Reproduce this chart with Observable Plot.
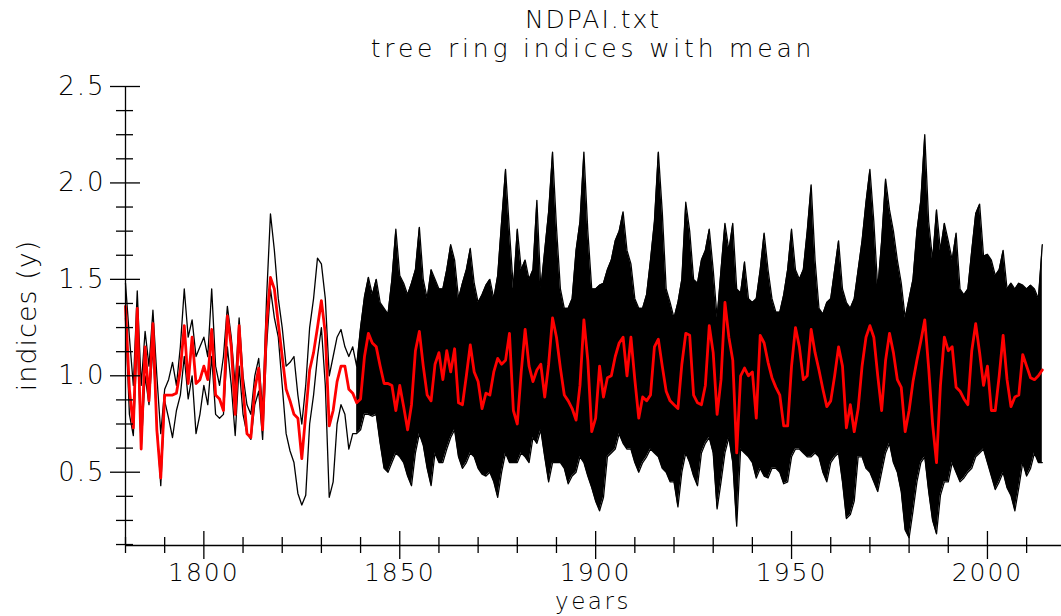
<!DOCTYPE html>
<html>
<head>
<meta charset="utf-8">
<script src="https://cdn.jsdelivr.net/npm/d3@7"></script>
<script src="https://cdn.jsdelivr.net/npm/@observablehq/plot@0.6"></script>
<style>
  html, body { margin: 0; padding: 0; background: #fff; }
  #wrap { position: relative; width: 1061px; height: 616px; overflow: hidden;
          font-family: "DejaVu Sans", sans-serif; font-weight: 200; color: #000; }
  #head { position: relative; height: 62px; }
  .ttl { position: absolute; left: 125px; width: 936px; text-align: center;
         font-size: 25px; line-height: 25px; white-space: nowrap; }
  #ylab { position: absolute; width: 200px; height: 27px; line-height: 27px; font-size: 27px;
          letter-spacing: 1px; text-align: center; left: -74.4px; top: 302px;
          transform: rotate(-90deg); white-space: nowrap; }
  #xlab { position: absolute; left: 125px; width: 936px; text-align: center; top: 589.5px;
          font-size: 23px; line-height: 23px; letter-spacing: 2.5px; }
  svg { display: block; }
</style>
</head>
<body>
<div id="wrap">
  <div id="head">
    <div class="ttl" style="top:7px; letter-spacing:2px">NDPAI.txt</div>
    <div class="ttl" style="top:36px; letter-spacing:3.8px">tree ring indices with mean</div>
  </div>
  <div id="chart"></div>
  <div id="ylab">indices (y)</div>
  <div id="xlab">years</div>
</div>
<script>
// ---------- data ----------
const firstYear = 1780;
const lastYear = 2014;
const denseFrom = 1839; // from here on the individual series merge into a solid band

// red: mean of all tree ring indices, 1780..2014 (one value per year)
const meanIndex = [
  1.36,0.93,0.73,1.35,0.62,1.15,0.87,1.27,0.72,0.47, // 1780s
  0.90,0.90,0.90,0.91,1.03,1.26,0.96,1.20,0.96,0.98, // 1790s
  1.05,0.98,1.24,0.90,0.88,0.82,1.31,1.15,0.80,1.26, // 1800s
  0.93,0.70,0.68,0.93,1.04,0.72,1.27,1.51,1.45,1.27, // 1810s
  1.10,0.93,0.87,0.80,0.78,0.57,0.80,1.03,1.12,1.25, // 1820s
  1.39,1.22,0.74,0.82,0.97,1.05,1.05,0.93,0.91,0.86, // 1830s
  0.88,1.10,1.22,1.17,1.15,1.05,0.96,0.96,0.95,0.82, // 1840s
  0.95,0.84,0.72,0.85,1.13,1.23,1.05,0.90,0.87,1.06, // 1850s
  1.12,0.98,1.13,1.02,1.14,0.86,0.85,1.00,1.16,1.02, // 1860s
  0.97,0.83,0.91,0.90,1.02,1.09,1.06,1.08,1.22,0.82, // 1870s
  0.75,1.02,1.24,1.05,0.97,1.03,1.06,0.89,1.06,1.30, // 1880s
  1.20,1.04,0.90,0.87,0.83,0.77,0.95,1.29,1.08,0.71, // 1890s
  0.78,1.05,0.89,0.99,1.00,1.10,1.17,1.20,1.00,1.20, // 1900s
  0.98,0.78,0.89,0.87,0.90,1.15,1.19,1.05,0.92,0.87, // 1910s
  0.85,0.83,1.06,1.22,1.21,0.90,0.86,0.85,0.95,1.26, // 1920s
  1.12,0.80,0.98,1.38,1.20,1.08,0.60,1.00,1.04,1.00, // 1930s
  1.02,0.78,1.21,1.17,1.07,0.99,0.94,0.90,0.74,0.74, // 1940s
  1.05,1.25,1.15,0.98,1.00,1.24,1.12,1.03,0.93,0.84, // 1950s
  0.87,1.00,1.15,1.05,0.73,0.85,0.71,0.83,1.05,1.20, // 1960s
  1.26,1.20,1.00,0.82,1.08,1.22,1.12,0.98,0.94,0.71, // 1970s
  0.82,0.97,1.08,1.18,1.29,1.04,0.75,0.55,0.95,1.20, // 1980s
  1.13,1.15,0.94,0.92,0.88,0.85,1.13,1.27,1.12,0.95, // 1990s
  1.05,0.82,0.82,1.00,1.21,0.98,0.84,0.89,0.90,1.11, // 2000s
  1.05,0.99,0.98,1.00,1.03                           // 2010s
];

// black: highest of the individual tree ring indices per year
const upperIndex = [
  1.48,1.20,0.95,1.44,0.95,1.23,1.05,1.34,1.00,0.70,
  0.93,0.98,1.07,0.95,1.15,1.45,1.20,1.29,1.10,1.15,
  1.20,1.10,1.45,1.05,0.95,1.10,1.36,1.20,0.95,1.30,
  1.00,0.85,0.80,1.00,1.09,0.82,1.40,1.84,1.65,1.40,
  1.25,1.05,1.07,1.10,0.90,0.75,0.95,1.25,1.40,1.61,
  1.58,1.40,1.00,1.10,1.20,1.24,1.15,1.10,1.15,1.05,
  1.25,1.41,1.51,1.42,1.50,1.38,1.35,1.32,1.50,1.76,
  1.52,1.48,1.42,1.48,1.55,1.77,1.50,1.40,1.55,1.50,
  1.45,1.45,1.55,1.68,1.60,1.40,1.48,1.55,1.66,1.48,
  1.38,1.42,1.47,1.50,1.40,1.52,1.80,2.07,1.75,1.45,
  1.76,1.55,1.60,1.50,1.55,1.91,1.45,1.65,1.85,2.16,
  1.77,1.45,1.35,1.35,1.40,1.65,1.80,2.16,1.75,1.45,
  1.45,1.47,1.48,1.55,1.60,1.70,1.75,1.85,1.65,1.58,
  1.40,1.35,1.35,1.42,1.60,1.80,2.16,1.85,1.45,1.38,
  1.30,1.38,1.50,1.90,1.75,1.50,1.48,1.60,1.65,1.76,
  1.55,1.30,1.55,1.79,1.65,1.79,1.45,1.43,1.59,1.40,
  1.38,1.40,1.55,1.74,1.55,1.40,1.33,1.33,1.42,1.55,
  1.76,1.55,1.50,1.55,1.75,1.99,1.60,1.35,1.32,1.38,
  1.40,1.55,1.70,1.45,1.38,1.35,1.40,1.55,1.70,1.90,
  2.07,1.80,1.45,1.70,2.02,1.86,1.75,1.60,1.48,1.30,
  1.40,1.50,1.75,1.91,2.25,1.80,1.60,1.86,1.65,1.79,
  1.70,1.60,1.74,1.45,1.42,1.45,1.65,1.84,1.89,1.62,
  1.63,1.60,1.52,1.55,1.65,1.45,1.48,1.45,1.48,1.47,
  1.45,1.47,1.45,1.40,1.68
];

// black: lowest of the individual tree ring indices per year
const lowerIndex = [
  1.30,0.80,0.69,1.20,0.62,1.00,0.85,1.15,0.75,0.43,
  0.87,0.78,0.68,0.82,0.90,1.10,0.88,1.00,0.70,0.80,
  0.95,0.85,1.10,0.80,0.78,0.80,1.15,0.95,0.69,1.05,
  0.80,0.70,0.67,0.85,0.92,0.67,1.15,1.45,1.30,1.20,
  0.95,0.70,0.61,0.55,0.39,0.33,0.38,0.75,0.90,1.10,
  1.25,0.95,0.37,0.45,0.75,0.85,0.80,0.62,0.70,0.70,
  0.72,0.80,0.80,0.79,0.80,0.65,0.52,0.50,0.55,0.60,
  0.58,0.55,0.48,0.43,0.60,0.70,0.64,0.52,0.43,0.60,
  0.55,0.55,0.62,0.68,0.72,0.58,0.52,0.55,0.60,0.58,
  0.52,0.49,0.48,0.50,0.45,0.37,0.50,0.60,0.55,0.55,
  0.55,0.60,0.58,0.55,0.68,0.65,0.72,0.58,0.45,0.55,
  0.55,0.55,0.52,0.44,0.48,0.50,0.58,0.55,0.48,0.42,
  0.35,0.30,0.37,0.58,0.60,0.62,0.70,0.65,0.62,0.62,
  0.55,0.50,0.55,0.58,0.62,0.60,0.58,0.52,0.50,0.45,
  0.45,0.32,0.50,0.60,0.55,0.48,0.43,0.60,0.65,0.68,
  0.60,0.31,0.45,0.60,0.68,0.55,0.22,0.62,0.60,0.58,
  0.55,0.47,0.52,0.48,0.47,0.52,0.52,0.50,0.44,0.45,
  0.58,0.62,0.62,0.60,0.58,0.58,0.60,0.58,0.50,0.45,
  0.55,0.58,0.60,0.45,0.26,0.28,0.35,0.58,0.58,0.52,
  0.50,0.45,0.40,0.50,0.60,0.65,0.55,0.50,0.40,0.20,
  0.16,0.30,0.45,0.55,0.58,0.40,0.25,0.18,0.38,0.45,
  0.45,0.55,0.50,0.45,0.47,0.50,0.52,0.58,0.60,0.62,
  0.55,0.48,0.41,0.45,0.50,0.42,0.38,0.30,0.42,0.55,
  0.48,0.52,0.60,0.55,0.55
];

// axis ticks
const yMajorTicks = [0.5, 1.0, 1.5, 2.0, 2.5];
const yMinorTicks = [0.125, 0.25, 0.375, 0.625, 0.75, 0.875, 1.125, 1.25, 1.375,
                     1.625, 1.75, 1.875, 2.125, 2.25, 2.375];
const xMajorTicks = [1800, 1850, 1900, 1950, 2000];
const xMinorTicks = [1780, 1790, 1810, 1820, 1830, 1840, 1860, 1870, 1880, 1890,
                     1910, 1920, 1930, 1940, 1960, 1970, 1980, 1990, 2010];
const xDomain = [1780, 2018.9];
const yDomain = [0.12, 2.5];

// ---------- build tables ----------
const years = d3.range(firstYear, lastYear + 1);
const rows = years.map((year, i) => ({year, mean: meanIndex[i], hi: upperIndex[i], lo: lowerIndex[i]}));
const denseRows = rows.filter(d => d.year >= denseFrom);

const chart = Plot.plot({
  width: 1061,
  height: 554,
  marginLeft: 125,
  marginRight: 0,
  marginTop: 24,
  marginBottom: 71,
  style: {fontFamily: "DejaVu Sans, sans-serif", fontSize: "26px", fontWeight: 200, letterSpacing: "2px",
          background: "white", color: "black", overflow: "visible"},
  x: {domain: xDomain, label: null},
  y: {domain: yDomain, label: null},
  marks: [
    Plot.areaY(denseRows, {x: "year", y1: "lo", y2: "hi", fill: "black"}),
    Plot.line(rows, {x: "year", y: "hi", stroke: "black", strokeWidth: 1.3}),
    Plot.line(rows, {x: "year", y: "lo", stroke: "black", strokeWidth: 1.3}),
    Plot.line(rows, {x: "year", y: "mean", stroke: "#ff0000", strokeWidth: 2.8}),
    // axis lines
    Plot.ruleX([xDomain[0]], {stroke: "black", strokeWidth: 1.3}),
    Plot.ruleY([yDomain[0]], {stroke: "black", strokeWidth: 1.3}),
    // y ticks (crossing the axis line)
    Plot.axisY(yMajorTicks, {anchor: "left", tickSize: 30, dx: 15, tickFormat: () => "", label: null, strokeWidth: 1.3}),
    Plot.axisY(yMinorTicks, {anchor: "left", tickSize: 17, dx: 8, tickFormat: () => "", label: null, strokeWidth: 1.3}),
    Plot.axisY(yMajorTicks, {anchor: "left", tickSize: 0, tickPadding: 20, tickFormat: ".1f", label: null}),
    // x ticks
    Plot.axisX(xMajorTicks, {anchor: "bottom", tickSize: 28, dy: -14, tickFormat: () => "", label: null, strokeWidth: 1.3}),
    Plot.axisX(xMinorTicks, {anchor: "bottom", tickSize: 16, dy: -8, tickFormat: () => "", label: null, strokeWidth: 1.3}),
    Plot.axisX(xMajorTicks, {anchor: "bottom", tickSize: 0, tickPadding: 18, tickFormat: "d", fontSize: 25, label: null})
  ]
});
document.getElementById("chart").appendChild(chart);
</script>
</body>
</html>
